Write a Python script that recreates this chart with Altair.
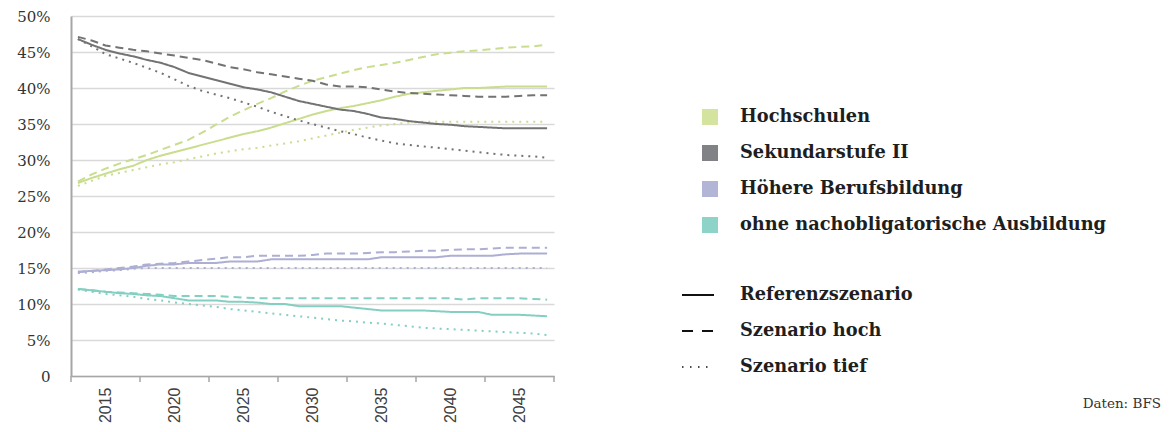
import altair as alt
import pandas as pd

years = list(range(2013, 2048))
categories = ["Hochschulen", "Sekundarstufe II", "Höhere Berufsbildung",
              "ohne nachobligatorische Ausbildung"]
scenarios = ["Referenzszenario", "Szenario hoch", "Szenario tief"]
cat_colors = ["#c9dd8e", "#737373", "#acaed3", "#83cfc2"]
legend_colors = ["#d4e39e", "#808285", "#b3b5d6", "#8dd3c7"]

hs_ref = [26.8, 27.5, 28.1, 28.7, 29.2, 30.0, 30.6, 31.1, 31.6, 32.1,
          32.6, 33.1, 33.6, 34.0, 34.5, 35.1, 35.7, 36.3, 36.8, 37.2,
          37.5, 37.9, 38.3, 38.8, 39.2, 39.4, 39.6, 39.8, 40.0, 40.0,
          40.1, 40.2, 40.2, 40.2, 40.2]
hs_hoch = [27.0, 28.0, 28.8, 29.5, 30.1, 30.7, 31.4, 32.1, 32.8, 33.8,
           34.9, 36.0, 36.9, 37.8, 38.6, 39.5, 40.3, 41.0, 41.5, 42.0,
           42.5, 42.9, 43.2, 43.5, 43.9, 44.3, 44.7, 44.9, 45.1, 45.2,
           45.4, 45.6, 45.7, 45.8, 46.0]
hs_tief = [26.4, 27.1, 27.8, 28.2, 28.6, 29.0, 29.4, 29.7, 30.1, 30.5,
           30.9, 31.2, 31.5, 31.7, 32.0, 32.3, 32.6, 33.0, 33.4, 33.8,
           34.2, 34.5, 34.8, 35.0, 35.2, 35.3, 35.3, 35.3, 35.3, 35.3,
           35.3, 35.3, 35.3, 35.3, 35.3]

sek_ref = [46.8, 46.0, 45.3, 44.8, 44.4, 43.9, 43.5, 42.9, 42.1, 41.6,
           41.1, 40.6, 40.1, 39.8, 39.4, 38.8, 38.2, 37.8, 37.4, 37.0,
           36.8, 36.4, 35.9, 35.7, 35.4, 35.2, 35.0, 34.9, 34.7, 34.6,
           34.5, 34.4, 34.4, 34.4, 34.4]
sek_hoch = [47.1, 46.6, 45.9, 45.6, 45.3, 45.1, 44.8, 44.5, 44.2, 43.9,
            43.4, 42.9, 42.6, 42.2, 41.9, 41.6, 41.3, 41.0, 40.5, 40.2,
            40.2, 40.1, 39.8, 39.5, 39.3, 39.2, 39.1, 39.0, 38.9, 38.8,
            38.8, 38.8, 38.9, 39.0, 39.0]
sek_tief = [46.8, 45.8, 44.7, 44.1, 43.5, 42.8, 42.1, 41.2, 40.3, 39.6,
            39.1, 38.6, 38.0, 37.4, 36.7, 36.1, 35.5, 35.0, 34.5, 34.0,
            33.6, 33.1, 32.7, 32.3, 32.1, 31.9, 31.7, 31.5, 31.3, 31.1,
            30.9, 30.7, 30.6, 30.5, 30.3]

hb_ref = [14.5, 14.6, 14.7, 14.8, 15.0, 15.3, 15.5, 15.5, 15.7, 15.7,
          15.7, 15.9, 15.9, 15.9, 16.2, 16.2, 16.2, 16.2, 16.2, 16.2,
          16.2, 16.2, 16.5, 16.5, 16.5, 16.5, 16.5, 16.7, 16.7, 16.7,
          16.7, 16.9, 17.0, 17.0, 17.0]
hb_hoch = [14.4, 14.6, 14.8, 15.0, 15.2, 15.5, 15.6, 15.7, 15.9, 16.1,
           16.3, 16.5, 16.5, 16.7, 16.7, 16.7, 16.7, 16.8, 17.0, 17.0,
           17.0, 17.1, 17.2, 17.2, 17.3, 17.4, 17.4, 17.5, 17.6, 17.6,
           17.7, 17.8, 17.8, 17.8, 17.8]
hb_tief = [14.3, 14.4, 14.6, 14.7, 14.9, 15.0, 15.0, 15.0, 15.0, 15.0,
           15.0, 15.0, 15.0, 15.0, 15.0, 15.0, 15.0, 15.0, 15.0, 15.0,
           15.0, 15.0, 15.0, 15.0, 15.0, 15.0, 15.0, 15.0, 15.0, 15.0,
           15.0, 15.0, 15.0, 15.0, 15.0]

oa_ref = [12.1, 11.9, 11.7, 11.5, 11.4, 11.2, 11.1, 10.8, 10.5, 10.5,
          10.5, 10.3, 10.3, 10.2, 10.0, 10.0, 9.7, 9.7, 9.7, 9.7,
          9.5, 9.3, 9.1, 9.1, 9.1, 9.1, 9.0, 8.9, 8.9, 8.9,
          8.5, 8.5, 8.5, 8.4, 8.3]
oa_hoch = [12.1, 11.9, 11.7, 11.6, 11.5, 11.4, 11.3, 11.1, 11.1, 11.1,
           11.1, 11.0, 10.9, 10.8, 10.8, 10.8, 10.8, 10.8, 10.8, 10.8,
           10.8, 10.8, 10.8, 10.8, 10.8, 10.8, 10.8, 10.8, 10.6, 10.8,
           10.8, 10.8, 10.8, 10.7, 10.6]
oa_tief = [12.0, 11.7, 11.4, 11.2, 11.0, 10.7, 10.5, 10.2, 10.0, 9.8,
           9.6, 9.3, 9.1, 8.9, 8.7, 8.5, 8.3, 8.1, 7.9, 7.7,
           7.6, 7.4, 7.3, 7.1, 6.9, 6.7, 6.6, 6.5, 6.4, 6.3,
           6.2, 6.1, 6.0, 5.9, 5.7]

x_labels = [2015, 2020, 2025, 2030, 2035, 2040, 2045]
x_ticks = [2012.5, 2017.5, 2022.5, 2027.5, 2032.5, 2037.5, 2042.5, 2047.5]
y_ticks = [0, 5, 10, 15, 20, 25, 30, 35, 40, 45, 50]

series = {
    ("Hochschulen", "Referenzszenario"): hs_ref,
    ("Hochschulen", "Szenario hoch"): hs_hoch,
    ("Hochschulen", "Szenario tief"): hs_tief,
    ("Sekundarstufe II", "Referenzszenario"): sek_ref,
    ("Sekundarstufe II", "Szenario hoch"): sek_hoch,
    ("Sekundarstufe II", "Szenario tief"): sek_tief,
    ("Höhere Berufsbildung", "Referenzszenario"): hb_ref,
    ("Höhere Berufsbildung", "Szenario hoch"): hb_hoch,
    ("Höhere Berufsbildung", "Szenario tief"): hb_tief,
    ("ohne nachobligatorische Ausbildung", "Referenzszenario"): oa_ref,
    ("ohne nachobligatorische Ausbildung", "Szenario hoch"): oa_hoch,
    ("ohne nachobligatorische Ausbildung", "Szenario tief"): oa_tief,
}

rows = []
for (cat, scen), vals in series.items():
    for yr, v in zip(years, vals):
        rows.append({"year": yr, "value": v, "cat": cat, "scen": scen})
df = pd.DataFrame(rows)

W, H = 483, 360
SERIF = "DejaVu Serif"

x_scale = alt.Scale(domain=[2012.5, 2047.5], nice=False, zero=False)
y_scale = alt.Scale(domain=[0, 50], nice=False)

lines = alt.Chart(df).mark_line(strokeWidth=2, clip=False).encode(
    x=alt.X("year:Q", scale=x_scale,
            axis=alt.Axis(values=x_labels, labelAngle=-90, ticks=False, grid=False,
                          domainColor="#a6a6a6", domainWidth=1.5,
                          labelFont="Liberation Sans", labelFontSize=16,
                          labelColor="#404040", labelPadding=11, title=None,
                          format="d", labelFlush=False, labelOverlap=False)),
    y=alt.Y("value:Q", scale=y_scale,
            axis=alt.Axis(values=y_ticks, grid=True, gridColor="#d9d9d9", gridWidth=1.5,
                          domainColor="#a6a6a6", domainWidth=2, ticks=False,
                          labelFont=SERIF, labelFontSize=15, labelColor="#333333",
                          labelPadding=21, title=None,
                          labelExpr="datum.value == 0 ? '0' : datum.value + '%'")),
    color=alt.Color("cat:N", scale=alt.Scale(domain=categories, range=cat_colors), legend=None),
    strokeDash=alt.StrokeDash("scen:N", scale=alt.Scale(domain=scenarios,
                              range=[[1, 0], [8, 5], [2, 5]]), legend=None),
    detail="scen:N",
)

tick_df = pd.DataFrame({"year": x_ticks})
ticks = alt.Chart(tick_df).mark_rule(color="#a6a6a6", strokeWidth=1.5).encode(
    x=alt.X("year:Q", scale=x_scale),
    y=alt.value(H), y2=alt.value(H + 6),
)

dummy = pd.DataFrame({"a": [0]})
layers = [lines, ticks]

cat_y = [101, 137, 173, 209]
for cat, col, yy in zip(categories, legend_colors, cat_y):
    layers.append(alt.Chart(dummy).mark_rect(color=col).encode(
        x=alt.value(631), x2=alt.value(647), y=alt.value(yy - 8), y2=alt.value(yy + 8)))
    layers.append(alt.Chart(dummy).mark_text(
        align="left", baseline="middle", font=SERIF, fontSize=17.8, fontWeight="bold",
        color="#1e1e1e").encode(x=alt.value(669), y=alt.value(yy), text=alt.value(cat)))

scen_y = [279, 315, 351]
scen_dash = [[1, 0], [11, 9], [1.5, 6.5]]
scen_w = [2, 2, 1.5]
for scen, dash, w, yy in zip(scenarios, scen_dash, scen_w, scen_y):
    layers.append(alt.Chart(dummy).mark_rule(color="#111111", strokeDash=dash, strokeWidth=w).encode(
        x=alt.value(611), x2=alt.value(643), y=alt.value(yy)))
    layers.append(alt.Chart(dummy).mark_text(
        align="left", baseline="middle", font=SERIF, fontSize=17.8, fontWeight="bold",
        color="#1e1e1e").encode(x=alt.value(669), y=alt.value(yy), text=alt.value(scen)))

layers.append(alt.Chart(dummy).mark_text(
    align="right", baseline="middle", font=SERIF, fontSize=13.5, color="#333333").encode(
    x=alt.value(1090), y=alt.value(388), text=alt.value("Daten: BFS")))

chart = alt.layer(*layers).properties(
    width=W, height=H,
    autosize=alt.AutoSizeParams(type="none"),
    padding={"left": 63, "top": 8, "right": 608, "bottom": 48},
).configure_view(stroke=None)

chart.save("out.html", embed_options={"renderer": "svg", "actions": False})
